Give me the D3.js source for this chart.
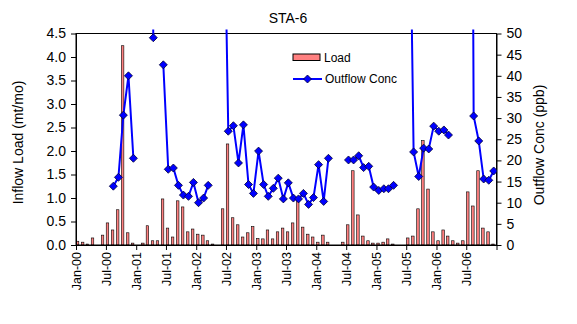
<!DOCTYPE html>
<html>
<head>
<meta charset="utf-8">
<script src="https://cdn.jsdelivr.net/npm/d3@7"></script>
<style>
  body { margin: 0; background: #fff; }
  text { font-family: "Liberation Sans", Arial, sans-serif; fill: #000; }
</style>
</head>
<body>
<script>
// Monthly data, Jan-00 .. Dec-06 (12 values per row / year)
var years = [2000, 2001, 2002, 2003, 2004, 2005, 2006];

// Inflow load (mt/mo)
var load = [
  0.08, 0.06, 0.02, 0.15, 0, 0.21, 0.47, 0.32, 0.75, 4.24, 0.26, 0.04,
  0, 0.04, 0.41, 0.09, 0.09, 0.98, 0.36, 0.17, 0.94, 0.81, 0.28, 0.34,
  0.23, 0.21, 0.09, 0.02, 0, 0.77, 2.15, 0.58, 0.43, 0.17, 0.26, 0.39,
  0.14, 0.13, 0.32, 0.13, 0.28, 0.36, 0.28, 0.47, 1.0, 0.38, 0.23, 0.17,
  0.06, 0.21, 0.06, 0, 0, 0.06, 0.43, 1.58, 0.64, 0.19, 0.09, 0.04,
  0.04, 0.06, 0.13, 0.02, 0, 0, 0.15, 0.19, 0.77, 2.22, 1.19, 0.28,
  0.09, 0.32, 0.19, 0.09, 0.04, 0.09, 1.13, 0.83, 1.58, 0.36, 0.28, 0.02
];

// Outflow concentration (ppb), null = no sample
var conc = [
  null, null, null, null, null, null, null, 13.9, 16.0, 30.7, 40.0, 20.5,
  null, null, 200, 49.0, null, 42.6, 17.9, 18.2, 14.1, 11.8, 11.5, 14.8,
  10.0, 11.1, 14.1, null, null, 95, 26.9, 28.2, 19.4, 28.4, 14.3, 12.2,
  22.2, 14.3, 11.5, 13.4, 15.8, 10.9, 14.7, 11.1, 10.9, 12.2, 9.6, 11.2,
  19.0, 10.3, 20.5, null, null, null, 20.1, 20.1, 21.1, 18.3, 18.6, 13.7,
  12.9, 13.3, 13.3, 14.1, null, null, 107, 22.0, 16.2, 22.9, 22.7, 28.1,
  26.9, 27.2, 26.0, null, null, null, 300, 30.5, 24.6, 15.6, 15.3, 17.5
];

var xTickLabels = ["Jan-00", "Jul-00", "Jan-01", "Jul-01", "Jan-02", "Jul-02", "Jan-03",
  "Jul-03", "Jan-04", "Jul-04", "Jan-05", "Jul-05", "Jan-06", "Jul-06", ""];
var loadTicks = [0, 0.5, 1, 1.5, 2, 2.5, 3, 3.5, 4, 4.5];
var concTicks = [0, 5, 10, 15, 20, 25, 30, 35, 40, 45, 50];

// sizes
var width = 577, height = 324;
var plot = { left: 76, right: 496.5, top: 33.5, bottom: 245 };

var svg = d3.select("body").append("svg")
    .attr("width", width)
    .attr("height", height);

// build the month rows
var months = [];
years.forEach(function(y, yi) {
  for (var m = 0; m < 12; m++) {
    var i = yi * 12 + m;
    months.push({ start: new Date(y, m, 1), mid: new Date(y, m, 15), load: load[i], conc: conc[i] });
  }
});

var tickDates = xTickLabels.map(function(d, i) {
  return new Date(2000 + Math.floor(i / 2), (i % 2) * 6, 1);
});

// scales
var x = d3.scaleTime()
    .domain([new Date(2000, 0, 1), new Date(2007, 0, 1)])
    .range([plot.left, plot.right]);

var yLoad = d3.scaleLinear()
    .domain([0, 4.5])
    .range([plot.bottom, plot.top]);

var yConc = d3.scaleLinear()
    .domain([0, 50])
    .range([plot.bottom, plot.top]);

// clip for the line (Excel lets it run a little over the frame)
svg.append("clipPath").attr("id", "clip")
  .append("rect")
    .attr("x", plot.left)
    .attr("y", 29.5)
    .attr("width", plot.right - plot.left)
    .attr("height", plot.bottom - 29.5);

// bars
svg.append("g")
  .selectAll("rect")
  .data(months.filter(function(d) { return d.load > 0; }))
  .enter().append("rect")
    .attr("x", function(d) { return x(d.start) + 0.3; })
    .attr("y", function(d) { return yLoad(d.load); })
    .attr("width", 2.5)
    .attr("height", function(d) { return plot.bottom - yLoad(d.load); })
    .attr("fill", "#ff8080")
    .attr("stroke", "#000")
    .attr("stroke-width", 0.6);

// frame
svg.append("rect")
    .attr("x", plot.left)
    .attr("y", plot.top)
    .attr("width", plot.right - plot.left)
    .attr("height", plot.bottom - plot.top)
    .attr("fill", "none")
    .attr("stroke", "#000")
    .attr("stroke-width", 1);

// axes
var xAxis = svg.append("g")
    .attr("transform", "translate(0," + plot.bottom + ")")
    .call(d3.axisBottom(x).tickValues(tickDates).tickSize(5).tickSizeOuter(0)
      .tickFormat(function(d, i) { return xTickLabels[i]; }));
xAxis.selectAll("text")
    .attr("transform", "rotate(-90)")
    .attr("x", -7)
    .attr("y", 0)
    .attr("dy", "0.35em")
    .style("text-anchor", "end")
    .attr("font-size", "12.5px");

var leftAxis = svg.append("g")
    .attr("transform", "translate(" + plot.left + ",0)")
    .call(d3.axisLeft(yLoad).tickValues(loadTicks).tickSize(5).tickSizeOuter(0)
      .tickFormat(d3.format(".1f")));
leftAxis.selectAll("text").attr("font-size", "14px").attr("x", -10);

var rightAxis = svg.append("g")
    .attr("transform", "translate(" + plot.right + ",0)")
    .call(d3.axisRight(yConc).tickValues(concTicks).tickSize(5).tickSizeOuter(0));
rightAxis.selectAll("text").attr("font-size", "14px").attr("x", 10);

svg.selectAll(".domain").attr("stroke", "#000");
svg.selectAll(".tick line").attr("stroke", "#000");

// line
var line = d3.line()
    .defined(function(d) { return d.conc != null; })
    .x(function(d) { return x(d.mid); })
    .y(function(d) { return yConc(d.conc); });

svg.append("path")
    .datum(months)
    .attr("clip-path", "url(#clip)")
    .attr("d", line)
    .attr("fill", "none")
    .attr("stroke", "#0000ff")
    .attr("stroke-width", 2);

var diamond = "M0,-4L4,0L0,4L-4,0Z";

svg.append("g")
    .attr("clip-path", "url(#clip)")
  .selectAll("path")
  .data(months.filter(function(d) { return d.conc != null; }))
  .enter().append("path")
    .attr("d", diamond)
    .attr("transform", function(d) { return "translate(" + x(d.mid) + "," + yConc(d.conc) + ")"; })
    .attr("fill", "#0000ff")
    .attr("stroke", "#000033")
    .attr("stroke-width", 0.8);

// title
svg.append("text")
    .attr("x", 288)
    .attr("y", 23)
    .attr("text-anchor", "middle")
    .attr("font-size", "14px")
    .text("STA-6");

// axis titles
svg.append("text")
    .attr("transform", "translate(23,142.5) rotate(-90)")
    .attr("text-anchor", "middle")
    .attr("font-size", "14px")
    .text("Inflow Load (mt/mo)");

svg.append("text")
    .attr("transform", "translate(543.5,145) rotate(-90)")
    .attr("text-anchor", "middle")
    .attr("font-size", "14px")
    .text("Outflow Conc (ppb)");

// legend
var legend = svg.append("g");
legend.append("rect")
    .attr("x", 293)
    .attr("y", 54)
    .attr("width", 27)
    .attr("height", 6.5)
    .attr("fill", "#ff8080")
    .attr("stroke", "#000")
    .attr("stroke-width", 1);
legend.append("text")
    .attr("x", 324)
    .attr("y", 61.5)
    .attr("font-size", "12px")
    .text("Load");
legend.append("line")
    .attr("x1", 293).attr("x2", 322)
    .attr("y1", 79).attr("y2", 79)
    .attr("stroke", "#0000ff")
    .attr("stroke-width", 2);
legend.append("path")
    .attr("d", diamond)
    .attr("transform", "translate(307.5,79)")
    .attr("fill", "#0000ff")
    .attr("stroke", "#000033")
    .attr("stroke-width", 0.8);
legend.append("text")
    .attr("x", 325)
    .attr("y", 82.5)
    .attr("font-size", "12px")
    .text("Outflow Conc");
</script>
</body>
</html>
